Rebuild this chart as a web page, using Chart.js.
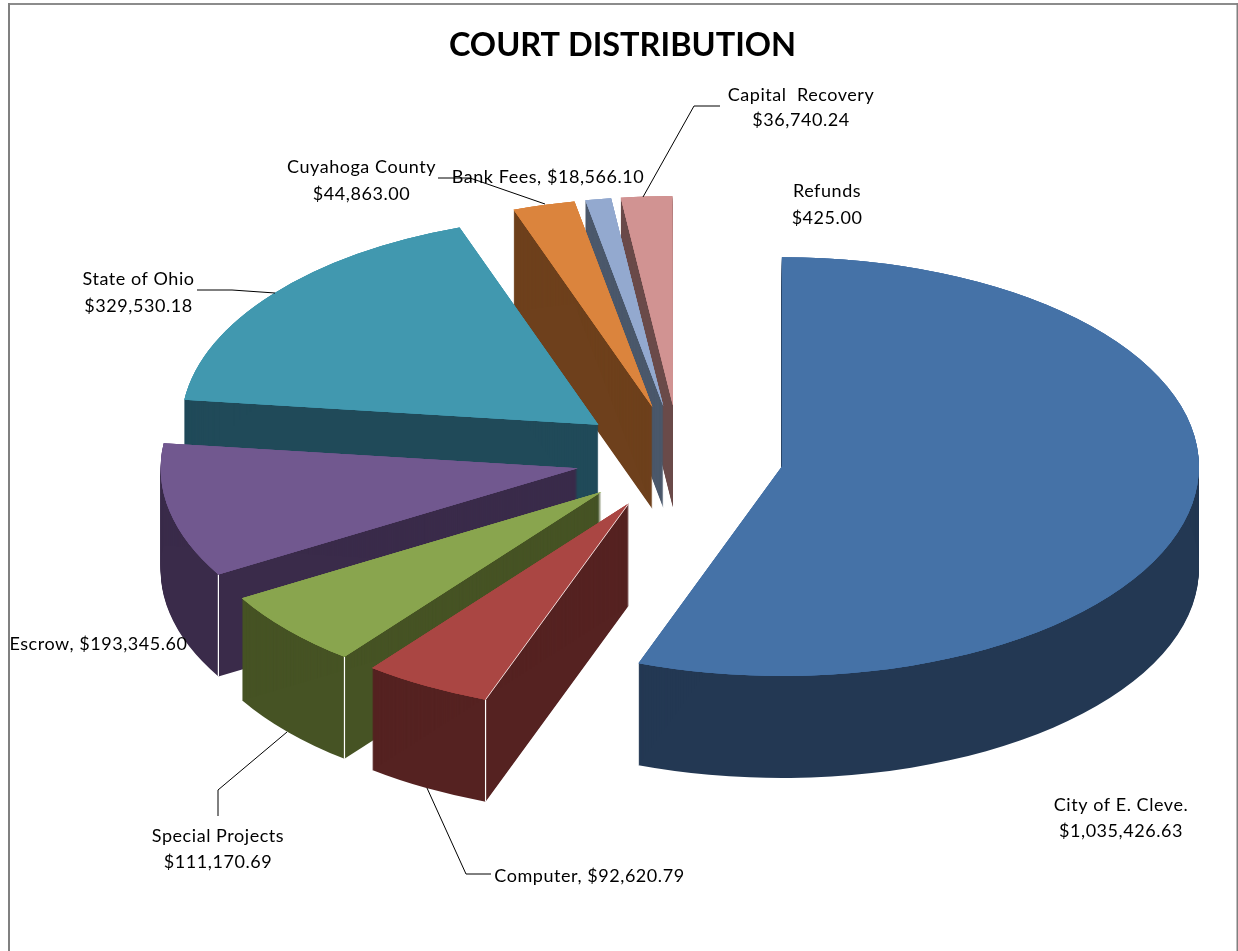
<!DOCTYPE html>
<html>
<head>
<meta charset="utf-8">
<style>html,body{margin:0;padding:0;background:#fff;overflow:hidden}#wrap{position:relative;width:1238px;height:951px}</style>
<script src="https://cdn.jsdelivr.net/npm/chart.js@4"></script>
</head>
<body>
<div id="wrap"><canvas id="c" width="1238" height="951"></canvas></div>
<script>
const categories = ["City of E. Cleve.","Computer","Special Projects","Escrow","State of Ohio","Cuyahoga County","Bank Fees","Capital  Recovery","Refunds"];
const amounts = [1035426.63,92620.79,111170.69,193345.60,329530.18,44863.00,18566.10,36740.24,425.00];
const topColors = ["#4572A7","#AA4643","#89A54E","#71588F","#4198AF","#DB843D","#93A9CF","#D19392","#FFFFFF"];
const wallColors = ["#233853","#552221","#465324","#3A2B4A","#204A59","#6E401C","#4B586B","#6A4A49","#FFFFFF"];
const chartTitle = "COURT DISTRIBUTION";

const PIE_CX = 679.5, PIE_CY = 457.5, RADIUS = 417, SQUASH = 0.502, EXPLODE = 104, DEPTH = 102;
const paintOrder = [8,7,6,5,4,3,2,1,0];
const whiteEdges = [1,2,3];
const LABEL_FONT = '18px Lato';

const labelSpots = [
  {i:0,x:1121,y:[805,831]},
  {i:1,x:589.5,y:[876]},
  {i:2,x:218,y:[836,862]},
  {i:3,x:98.5,y:[644]},
  {i:4,x:138.5,y:[279,306]},
  {i:5,x:361.5,y:[167,194]},
  {i:6,x:548,y:[177]},
  {i:7,x:801,y:[95,120]},
  {i:8,x:827,y:[191,218]}
];
const leaders = [
  [[643,197],[694,106],[720,106]],
  [[438,178],[470,178],[545,204]],
  [[197,290],[232,290],[275,293]],
  [[287,732],[218,790],[218,816]],
  [[427,788],[466,874],[491,874]]
];

const money = v => '$' + v.toLocaleString('en-US',{minimumFractionDigits:2,maximumFractionDigits:2});

const prismPie = {
  id:'prismPie',
  beforeDraw(chart){
    const g = chart.ctx;
    g.save();
    g.fillStyle = '#8c8c8c';
    g.fillRect(8,3,1230,2);
    g.fillStyle = '#808080';
    g.fillRect(8,3,2,948);
    g.fillRect(1236.5,3,1.5,948);
    g.restore();
  },
  beforeDatasetDraw(chart,args){
    const g = chart.ctx, arcs = args.meta.data;
    for (const i of paintOrder){
      const arc = arcs[i];
      const mid = (arc.startAngle + arc.endAngle)/2;
      const ex = Math.cos(mid)*EXPLODE, ey = Math.sin(mid)*EXPLODE;
      const cornerX = PIE_CX+ex+Math.cos(arc.startAngle)*RADIUS;
      const cornerY = PIE_CY+SQUASH*(ey+Math.sin(arc.startAngle)*RADIUS);
      const put = dy => {
        g.save();
        g.translate(PIE_CX, PIE_CY+dy);
        g.scale(1,SQUASH);
        g.translate(ex-arc.x, ey-arc.y);
        arc.draw(g);
        g.restore();
      };
      const own = arc.options;
      arc.options = Object.assign({}, own, {backgroundColor:wallColors[i]});
      for (let dy=1; dy<=DEPTH; dy++) put(dy);
      arc.options = own;
      if (whiteEdges.includes(i)){
        g.save();
        g.strokeStyle = '#fff'; g.lineWidth = 1.2;
        g.beginPath();
        g.moveTo(cornerX,cornerY); g.lineTo(cornerX,cornerY+DEPTH);
        g.stroke();
        g.restore();
      }
      put(0); put(0); put(0);
      if (i===1){
        g.save();
        g.strokeStyle = '#fff'; g.lineWidth = 0.8;
        g.beginPath();
        g.moveTo(cornerX,cornerY); g.lineTo(PIE_CX+ex,PIE_CY+SQUASH*ey);
        g.stroke();
        g.restore();
      }
    }
    return false;
  },
  afterDraw(chart){
    const g = chart.ctx;
    g.save();
    g.strokeStyle = '#000'; g.lineWidth = 1;
    for (const path of leaders){
      g.beginPath();
      path.forEach((p,k)=> k ? g.lineTo(p[0],p[1]) : g.moveTo(p[0],p[1]));
      g.stroke();
    }
    g.fillStyle = '#000'; g.font = LABEL_FONT; g.textAlign = 'center'; g.textBaseline = 'middle';
    g.letterSpacing = '0.55px';
    for (const s of labelSpots){
      const name = categories[s.i], val = money(amounts[s.i]);
      if (s.y.length===2){
        g.fillText(name,s.x,s.y[0]);
        g.fillText(val,s.x,s.y[1]);
      } else {
        g.fillText(name+', '+val,s.x,s.y[0]);
      }
    }
    g.restore();
  }
};

new Chart(document.getElementById('c'),{
  type:'pie',
  data:{labels:categories,datasets:[{data:amounts,backgroundColor:topColors,borderWidth:0,radius:RADIUS,offset:0,clip:false}]},
  options:{
    responsive:false,
    animation:false,
    events:[],
    layout:{padding:{left:7,right:0,top:0,bottom:0}},
    plugins:{
      legend:{display:false},
      tooltip:{enabled:false},
      title:{display:true,text:chartTitle,color:'#000',font:{family:'Lato',size:32.5,weight:'bold'},padding:{top:26,bottom:0}}
    }
  },
  plugins:[prismPie]
});
</script>
</body>
</html>
